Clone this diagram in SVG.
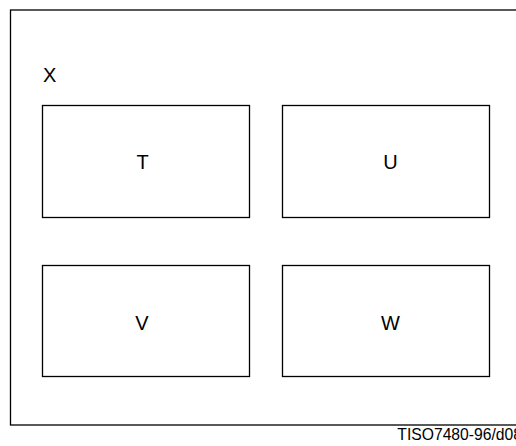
<svg xmlns="http://www.w3.org/2000/svg" width="516" height="446" viewBox="0 0 516 446">
<style>
.box{fill:#fff;stroke:#000;stroke-width:1.3}
.lbl{font-family:"Liberation Sans",Arial,sans-serif;font-size:20px;fill:#000}
.ft{font-family:"Liberation Sans",Arial,sans-serif;font-size:15.7px;fill:#000}
</style>
<rect width="516" height="446" fill="#fff"/>
<g id="X">
<rect class="box" x="10.5" y="10" width="520" height="415"/>
<text class="lbl" x="43" y="82">X</text>
</g>
<g id="T">
<rect class="box" x="42.5" y="105.5" width="207" height="112"/>
<text class="lbl" x="142.5" y="168.5" text-anchor="middle">T</text>
</g>
<g id="U">
<rect class="box" x="282.5" y="105.5" width="207" height="112"/>
<text class="lbl" x="390.5" y="168.5" text-anchor="middle">U</text>
</g>
<g id="V">
<rect class="box" x="42.5" y="265.5" width="207" height="111"/>
<text class="lbl" x="142" y="329.5" text-anchor="middle">V</text>
</g>
<g id="W">
<rect class="box" x="282.5" y="265.5" width="207" height="111"/>
<text class="lbl" x="390.5" y="329.5" text-anchor="middle">W</text>
</g>
<g id="connectors"></g>
<text class="ft" x="397.3" y="440">TISO7480-96/d08</text>
</svg>
